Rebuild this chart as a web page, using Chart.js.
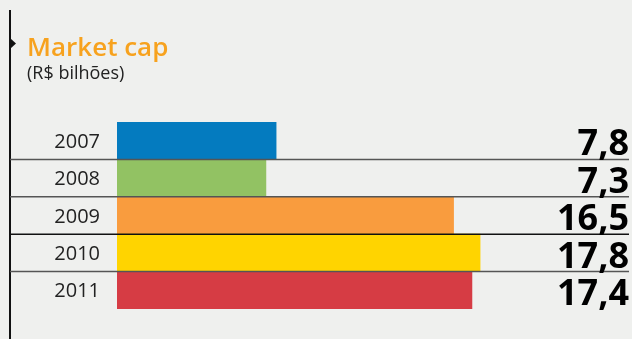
<!DOCTYPE html>
<html>
<head>
<meta charset="utf-8">
<script src="https://cdn.jsdelivr.net/npm/chart.js@4/dist/chart.umd.min.js"></script>
<style>
    html, body { margin: 0; padding: 0; background: #eff0ee; }
    #wrap { position: relative; width: 632px; height: 339px; }
</style>
</head>
<body>
<div id="wrap"><canvas id="marketCapChart"></canvas></div>
<script>
// Dados do gráfico
const anos = ['2007', '2008', '2009', '2010', '2011'];
const valores = [7.8, 7.3, 16.5, 17.8, 17.4];
const cores = ['#047bbf', '#92c263', '#f99c3e', '#ffd400', '#d63c44'];
const titulo = 'Market cap';
const subtitulo = '(R$ bilhões)';

function formatValor(v) {
    return v.toFixed(1).replace('.', ',');
}

// Títulos, rótulos e linhas separadoras desenhados por cima das barras
const decoracao = {
    id: 'decoracao',
    beforeDraw(chart) {
        const ctx = chart.ctx;
        ctx.save();
        ctx.fillStyle = '#eff0ee';
        ctx.fillRect(0, 0, chart.width, chart.height);

        // barra vertical da esquerda e marcador
        ctx.fillStyle = '#111';
        ctx.fillRect(9, 10, 2, chart.height - 10);
        ctx.beginPath();
        ctx.moveTo(10, 38);
        ctx.lineTo(16, 43.5);
        ctx.lineTo(10, 49);
        ctx.closePath();
        ctx.fill();

        ctx.textAlign = 'left';
        ctx.textBaseline = 'alphabetic';
        ctx.fillStyle = '#f7a21e';
        ctx.font = '600 26px "Open Sans"';
        ctx.fillText(titulo, 27, 56);
        ctx.fillStyle = '#222';
        ctx.font = '18px "Open Sans"';
        ctx.fillText(subtitulo, 27, 79);
        ctx.restore();
    },
    afterDatasetsDraw(chart) {
        const ctx = chart.ctx;
        const y = chart.scales.y;
        const area = chart.chartArea;
        const passo = y.getPixelForValue(1) - y.getPixelForValue(0);
        ctx.save();

        // linhas entre as categorias
        for (let i = 0; i < anos.length - 1; i++) {
            const yy = y.getPixelForValue(i) + passo / 2;
            ctx.strokeStyle = i === 2 ? '#111' : '#555';
            ctx.lineWidth = 1.5;
            ctx.beginPath();
            ctx.moveTo(10, yy);
            ctx.lineTo(area.right, yy);
            ctx.stroke();
        }

        anos.forEach((ano, i) => {
            const centro = y.getPixelForValue(i);
            ctx.fillStyle = '#222';
            ctx.font = '20px "Open Sans"';
            ctx.textAlign = 'right';
            ctx.textBaseline = 'alphabetic';
            ctx.fillText(ano, 100, centro + 7);

            ctx.fillStyle = '#000';
            ctx.font = 'bold 36px "Open Sans"';
            ctx.fillText(formatValor(valores[i]), area.right, centro + passo / 2 - 4);
        });
        ctx.restore();
    }
};

const ctx = document.getElementById('marketCapChart').getContext('2d');
new Chart(ctx, {
    type: 'bar',
    data: {
        labels: anos,
        datasets: [{
            data: valores,
            backgroundColor: cores,
            borderWidth: 0,
            categoryPercentage: 1,
            barPercentage: 1
        }]
    },
    options: {
        indexAxis: 'y',
        responsive: true,
        maintainAspectRatio: false,
        animation: false,
        layout: {
            padding: { left: 117, right: 3, top: 122, bottom: 30 }
        },
        plugins: {
            legend: { display: false },
            tooltip: { enabled: false }
        },
        scales: {
            x: { display: false, min: 0, max: 25.1 },
            y: { display: false }
        }
    },
    plugins: [decoracao]
});
</script>
</body>
</html>
